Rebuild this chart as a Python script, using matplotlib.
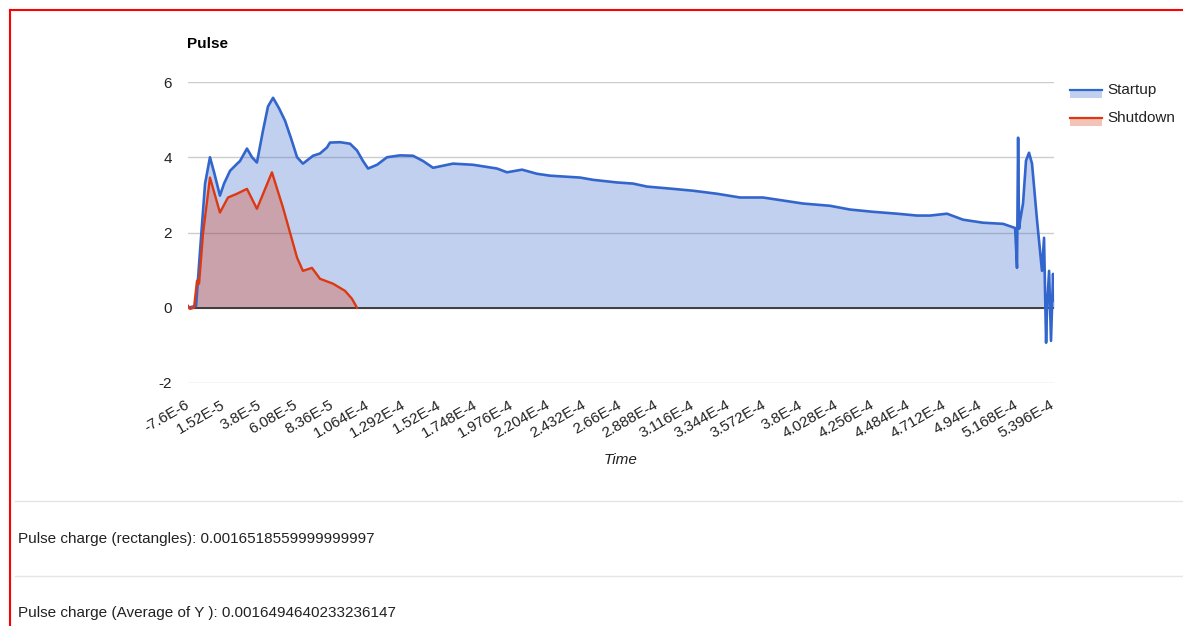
import numpy as np
import matplotlib
matplotlib.use('Agg')
import matplotlib.pyplot as plt
from matplotlib.patches import Rectangle
from matplotlib.lines import Line2D

plt.rcParams['font.family'] = ['Liberation Sans', 'DejaVu Sans']
plt.rcParams['axes.unicode_minus'] = False

# times in microseconds
startup_t = [-7.6, -2.5, 0.0, 3.2, 6.3, 8.9, 12.6, 15.2, 19.0, 22.8, 25.3, 29.7, 32.9, 36.0,
             39.8, 43.0, 46.2, 50.0, 53.8, 57.6, 61.4, 65.1, 71.5, 75.9, 80.3, 82.2, 88.6,
             94.9, 99.3, 103.1, 106.3, 112.0, 118.3, 126.5, 134.7, 141.1, 147.4, 160.0,
             172.7, 187.9, 194.2, 203.7, 213.2, 221.4, 240.4, 248.6, 263.8, 273.9, 282.8,
             299.2, 311.9, 327.0, 341.6, 356.1, 368.8, 381.4, 398.5, 411.2, 425.7, 440.9,
             453.6, 461.8, 472.5, 482.7, 495.3, 508.0, 515.6, 516.8, 517.5, 518.1, 518.7,
             520.6, 522.5, 524.4, 526.3, 529.5, 532.6, 533.9, 534.5, 535.2, 535.8, 537.1,
             538.3, 539.6, 540.2]
startup_v = [0.0, 0.05, 1.5, 3.3, 4.0, 3.6, 2.98, 3.3, 3.64, 3.8, 3.9, 4.23, 4.0, 3.86,
             4.7, 5.35, 5.58, 5.3, 4.97, 4.5, 4.0, 3.83, 4.04, 4.1, 4.26, 4.39, 4.4,
             4.36, 4.18, 3.9, 3.7, 3.8, 4.0, 4.05, 4.04, 3.9, 3.72, 3.83,
             3.8, 3.7, 3.6, 3.67, 3.56, 3.51, 3.46, 3.4, 3.33, 3.3, 3.22,
             3.16, 3.11, 3.03, 2.93, 2.93, 2.85, 2.77, 2.71, 2.61, 2.55, 2.5,
             2.45, 2.45, 2.5, 2.34, 2.26, 2.23, 2.12, 1.06, 4.52, 2.1, 2.3,
             2.77, 3.91, 4.12, 3.83, 2.31, 0.98, 1.86, 0.53, -0.93, 0.0, 0.98,
             -0.88, 0.9, 0.19]

shutdown_t = [-7.6, -6.3, -3.8, -1.9, -0.6, 1.9, 6.3, 12.6, 17.7, 23.4, 29.7, 36.0, 45.5,
              52.5, 61.4, 65.1, 70.8, 75.9, 84.1, 91.7, 96.1, 99.3]
shutdown_v = [0.05, -0.03, 0.0, 0.72, 0.64, 1.97, 3.46, 2.53, 2.93, 3.03, 3.16, 2.63, 3.6,
              2.66, 1.33, 0.98, 1.06, 0.77, 0.64, 0.45, 0.24, 0.0]

tick_t = [-7.6, 15.2, 38.0, 60.8, 83.6, 106.4, 129.2, 152.0, 174.8, 197.6, 220.4, 243.2,
          266.0, 288.8, 311.6, 334.4, 357.2, 380.0, 402.8, 425.6, 448.4, 471.2, 494.0,
          516.8, 539.6]
tick_labels = ['-7.6E-6', '1.52E-5', '3.8E-5', '6.08E-5', '8.36E-5', '1.064E-4', '1.292E-4',
               '1.52E-4', '1.748E-4', '1.976E-4', '2.204E-4', '2.432E-4', '2.66E-4',
               '2.888E-4', '3.116E-4', '3.344E-4', '3.572E-4', '3.8E-4', '4.028E-4',
               '4.256E-4', '4.484E-4', '4.712E-4', '4.94E-4', '5.168E-4', '5.396E-4']
y_ticks = [-2, 0, 2, 4, 6]

series_names = ['Startup', 'Shutdown']
blue = '#3366cc'
red = '#dc3912'
fs = 11

W, H = 1183, 626
fig = plt.figure(figsize=(W / 100, H / 100), dpi=100)
fig.patch.set_facecolor('white')

def fx(px):
    return px / W

def fy(py):
    return 1 - py / H

ax = fig.add_axes([fx(188), fy(383), (1054 - 188) / W, (383 - 82) / H])
ax.set_xlim(-7.6, 540.2)
ax.set_ylim(-2, 6)
for s in ax.spines.values():
    s.set_visible(False)
ax.set_axisbelow(True)
ax.set_yticks(y_ticks)
ax.yaxis.grid(True, color='#cccccc', lw=1)
ax.axhline(0, color='#333333', lw=1.3, zorder=3)

ax.fill_between(startup_t, startup_v, 0, color=blue, alpha=0.3, lw=0, zorder=1)
ax.fill_between(shutdown_t, shutdown_v, 0, color=red, alpha=0.3, lw=0, zorder=2)
ax.plot(startup_t, startup_v, color=blue, lw=1.9, zorder=4)
ax.plot(shutdown_t, shutdown_v, color=red, lw=1.7, zorder=5)

ax.tick_params(axis='both', length=0, labelsize=fs, colors='#222222')
ax.tick_params(axis='y', pad=11.5)
ax.tick_params(axis='x', pad=15)
ax.set_xticks(tick_t)
ax.set_xticklabels(tick_labels, rotation=30, ha='right', va='center', rotation_mode='anchor')

fig.text(fx(187), fy(44), 'Pulse', fontsize=fs, fontweight='bold', va='center', color='#000000')
fig.text(fx(621), fy(460), 'Time', fontsize=fs, style='italic', ha='center', va='center', color='#222222')

# legend drawn by hand, google style
for i, (name, c) in enumerate(zip(series_names, [blue, red])):
    ly = 90 + i * 28
    fig.add_artist(Rectangle((fx(1070), fy(ly + 8)), 32 / W, 8 / H, transform=fig.transFigure,
                             facecolor=c, alpha=0.3, lw=0))
    fig.add_artist(Line2D([fx(1070), fx(1102)], [fy(ly), fy(ly)], color=c, lw=1.6))
    fig.text(fx(1107), fy(ly), name, fontsize=fs, va='center', color='#222222')

# separators and charge texts
for sy in [501, 576]:
    fig.add_artist(Line2D([fx(15), 1], [fy(sy), fy(sy)], color='#e5e5e5', lw=1))
fig.text(fx(18), fy(539), 'Pulse charge (rectangles): 0.0016518559999999997', fontsize=fs,
         va='center', color='#222222')
fig.text(fx(18), fy(613), 'Pulse charge (Average of Y ): 0.0016494640233236147', fontsize=fs,
         va='center', color='#222222')

# red frame
fig.add_artist(Line2D([fx(10), 1], [fy(10), fy(10)], color='red', lw=1.5))
fig.add_artist(Line2D([fx(10), fx(10)], [fy(10), 0], color='red', lw=1.5))

fig.savefig('out.png', dpi=100)
